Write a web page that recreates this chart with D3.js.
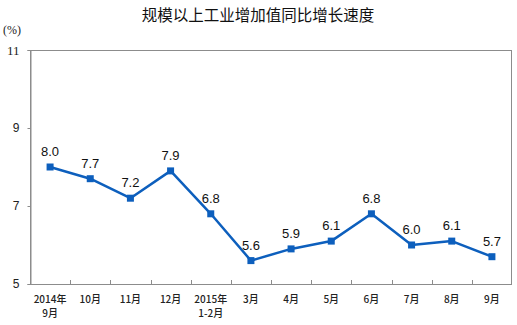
<!DOCTYPE html>
<html>
<head>
<meta charset="utf-8">
<script src="https://cdn.jsdelivr.net/npm/d3@7"></script>
<style>
  body { margin: 0; background: #fff; }
  svg { display: block; }
</style>
</head>
<body>
<svg id="chart" width="517" height="325"></svg>
<script>
// Monthly growth of industrial value added (%)
const categories = ["2014年\n9月", "10月", "11月", "12月", "2015年\n1-2月", "3月", "4月", "5月", "6月", "7月", "8月", "9月"];
const values = [8.0, 7.7, 7.2, 7.9, 6.8, 5.6, 5.9, 6.1, 6.8, 6.0, 6.1, 5.7];
const yTicks = [5, 7, 9, 11];
const title = "规模以上工业增加值同比增长速度";
const unitLabel = "(%)";

const svg = d3.select("#chart");
const margin = { left: 30, right: 5, top: 50, bottom: 41 };
const W = 517, H = 325;
const plotW = W - margin.left - margin.right;
const plotH = H - margin.top - margin.bottom;
const blue = "#0d5fbd";
const axisGray = "#8c8c8c";

const x = d3.scaleBand().domain(categories).range([margin.left, margin.left + plotW]);
const y = d3.scaleLinear().domain([5, 11]).range([margin.top + plotH, margin.top]);

// Title
svg.append("text")
  .attr("x", 258).attr("y", 21)
  .attr("text-anchor", "middle")
  .attr("font-family", "'Noto Sans CJK SC', sans-serif")
  .attr("font-size", 15.5)
  .attr("fill", "#111")
  .text(title);

// Unit label
svg.append("text")
  .attr("x", 3).attr("y", 34)
  .attr("font-family", "'Liberation Serif', serif")
  .attr("font-size", 12)
  .attr("fill", "#222")
  .text(unitLabel);

// Plot frame
svg.append("rect")
  .attr("x", margin.left + 0.5).attr("y", margin.top + 0.5)
  .attr("width", plotW - 1).attr("height", plotH)
  .attr("fill", "none")
  .attr("stroke", axisGray)
  .attr("stroke-width", 1);

// Y axis
const yAxis = svg.append("g")
  .attr("transform", `translate(${margin.left + 0.5},0)`)
  .call(d3.axisLeft(y).tickValues(yTicks).tickSize(3).tickPadding(8).tickFormat(d3.format("d")));
yAxis.select(".domain").attr("stroke", axisGray);
yAxis.selectAll(".tick line").attr("stroke", axisGray);
yAxis.selectAll(".tick text")
  .attr("font-family", d => d === 11 ? "'Liberation Serif', serif" : "'Liberation Sans', sans-serif")
  .attr("font-size", d => d === 11 ? 13 : 12)
  .attr("fill", "#222");

// X axis: ticks at category boundaries, pointing inward
const boundaries = categories.map(c => x(c)).concat([margin.left + plotW]);
svg.append("g").selectAll("line")
  .data(boundaries.slice(1, -1))
  .join("line")
  .attr("x1", d => Math.round(d) + 0.5).attr("x2", d => Math.round(d) + 0.5)
  .attr("y1", margin.top + plotH).attr("y2", margin.top + plotH - 4)
  .attr("stroke", axisGray);

const xLabels = svg.append("g");
categories.forEach(c => {
  const lines = c.split("\n");
  const t = xLabels.append("text")
    .attr("x", x(c) + x.bandwidth() / 2)
    .attr("y", margin.top + plotH + 19)
    .attr("text-anchor", "middle")
    .attr("font-family", "'Noto Sans CJK SC', sans-serif")
    .attr("font-size", 10)
    .attr("font-weight", 500)
    .attr("fill", "#222");
  lines.forEach((l, i) => {
    t.append("tspan")
      .attr("x", x(c) + x.bandwidth() / 2)
      .attr("dy", i === 0 ? 0 : 14)
      .text(l);
  });
});

// Line
const pts = categories.map((c, i) => ({ c, v: values[i] }));
svg.append("path")
  .datum(pts)
  .attr("fill", "none")
  .attr("stroke", blue)
  .attr("stroke-width", 2.5)
  .attr("stroke-linejoin", "round")
  .attr("d", d3.line().x(d => x(d.c) + x.bandwidth() / 2).y(d => y(d.v)));

// Markers
svg.append("g").selectAll("rect")
  .data(pts)
  .join("rect")
  .attr("x", d => x(d.c) + x.bandwidth() / 2 - 3.5)
  .attr("y", d => y(d.v) - 3.5)
  .attr("width", 7).attr("height", 7)
  .attr("fill", blue);

// Value labels
svg.append("g").selectAll("text")
  .data(pts)
  .join("text")
  .attr("x", d => x(d.c) + x.bandwidth() / 2)
  .attr("y", d => y(d.v) - 11)
  .attr("text-anchor", "middle")
  .attr("font-family", "'Liberation Sans', sans-serif")
  .attr("font-size", 13)
  .attr("fill", "#111")
  .text(d => d.v.toFixed(1));
</script>
</body>
</html>
